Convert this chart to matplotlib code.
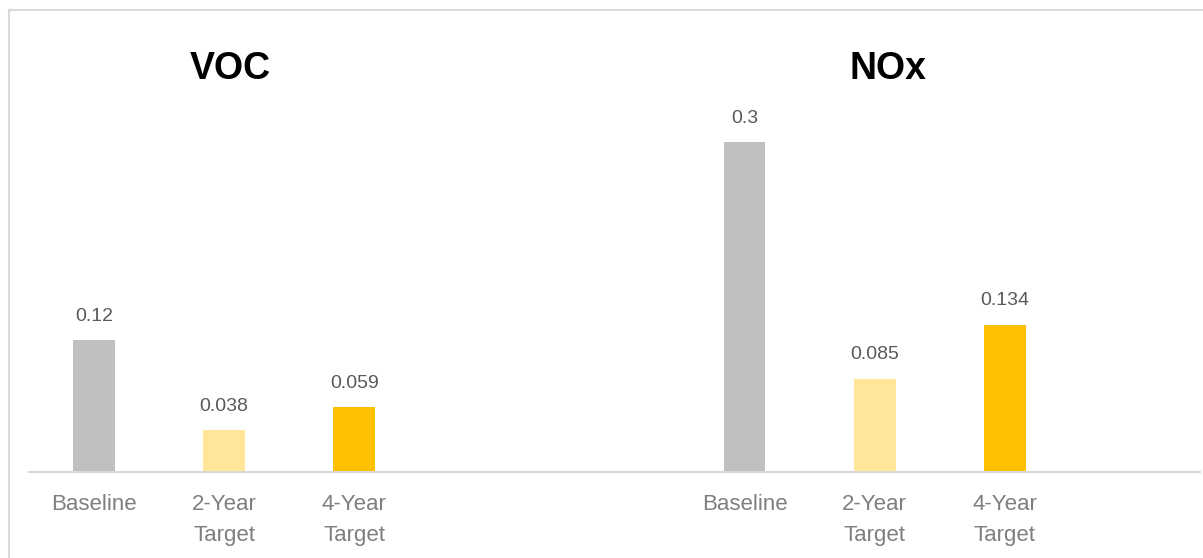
import matplotlib
matplotlib.use('Agg')
import matplotlib.pyplot as plt
from matplotlib.patches import Rectangle

plt.rcParams['font.family'] = ['Liberation Sans', 'DejaVu Sans']

categories = ['Baseline', '2-Year\nTarget', '4-Year\nTarget']
voc_values = [0.12, 0.038, 0.059]
nox_values = [0.3, 0.085, 0.134]
voc_labels = ['0.12', '0.038', '0.059']
nox_labels = ['0.3', '0.085', '0.134']
panel_titles = ['VOC', 'NOx']
bar_colors = ['#BFBFBF', '#FFE699', '#FFC000']

W, H = 1203, 558
fig = plt.figure(figsize=(W / 100, H / 100), dpi=100)

# light frame, left and top edges only visible
fig.patches.append(Rectangle((9 / W, -0.2), 1.2, (H - 10) / H + 0.2,
                             transform=fig.transFigure, fill=False,
                             edgecolor='#D9D9D9', lw=1.5, clip_on=False))

ax = fig.add_axes([29 / W, (H - 472) / H, (1200 - 29) / W, (472 - 10) / H])

voc_pos = [0, 1, 2]
nox_pos = [5, 6, 7]

for pos, vals, labs in [(voc_pos, voc_values, voc_labels),
                        (nox_pos, nox_values, nox_labels)]:
    ax.bar(pos, vals, width=0.32, color=bar_colors, zorder=2)
    for p, v, l in zip(pos, vals, labs):
        ax.annotate(l, (p, v), xytext=(0, 17), textcoords='offset points',
                    ha='center', va='center', fontsize=14, color='#595959')

ax.text(1.05, 0.366, panel_titles[0], ha='center', va='center',
        fontsize=27, fontweight='bold', color='black')
ax.text(6.1, 0.366, panel_titles[1], ha='center', va='center',
        fontsize=27, fontweight='bold', color='black')

ax.set_xticks(voc_pos + nox_pos)
ax.set_xticklabels(categories + categories, fontsize=16, color='#7F7F7F',
                   linespacing=1.62)
ax.tick_params(axis='x', length=0, pad=16)
ax.set_yticks([])
ax.set_xlim(-0.5, 8.5)
ax.set_ylim(0, 0.42)
for s in ['top', 'right', 'left']:
    ax.spines[s].set_visible(False)
ax.spines['bottom'].set_color('#D9D9D9')
ax.spines['bottom'].set_linewidth(1.5)
ax.spines['bottom'].set_zorder(3)

fig.savefig('out.png', dpi=100)
